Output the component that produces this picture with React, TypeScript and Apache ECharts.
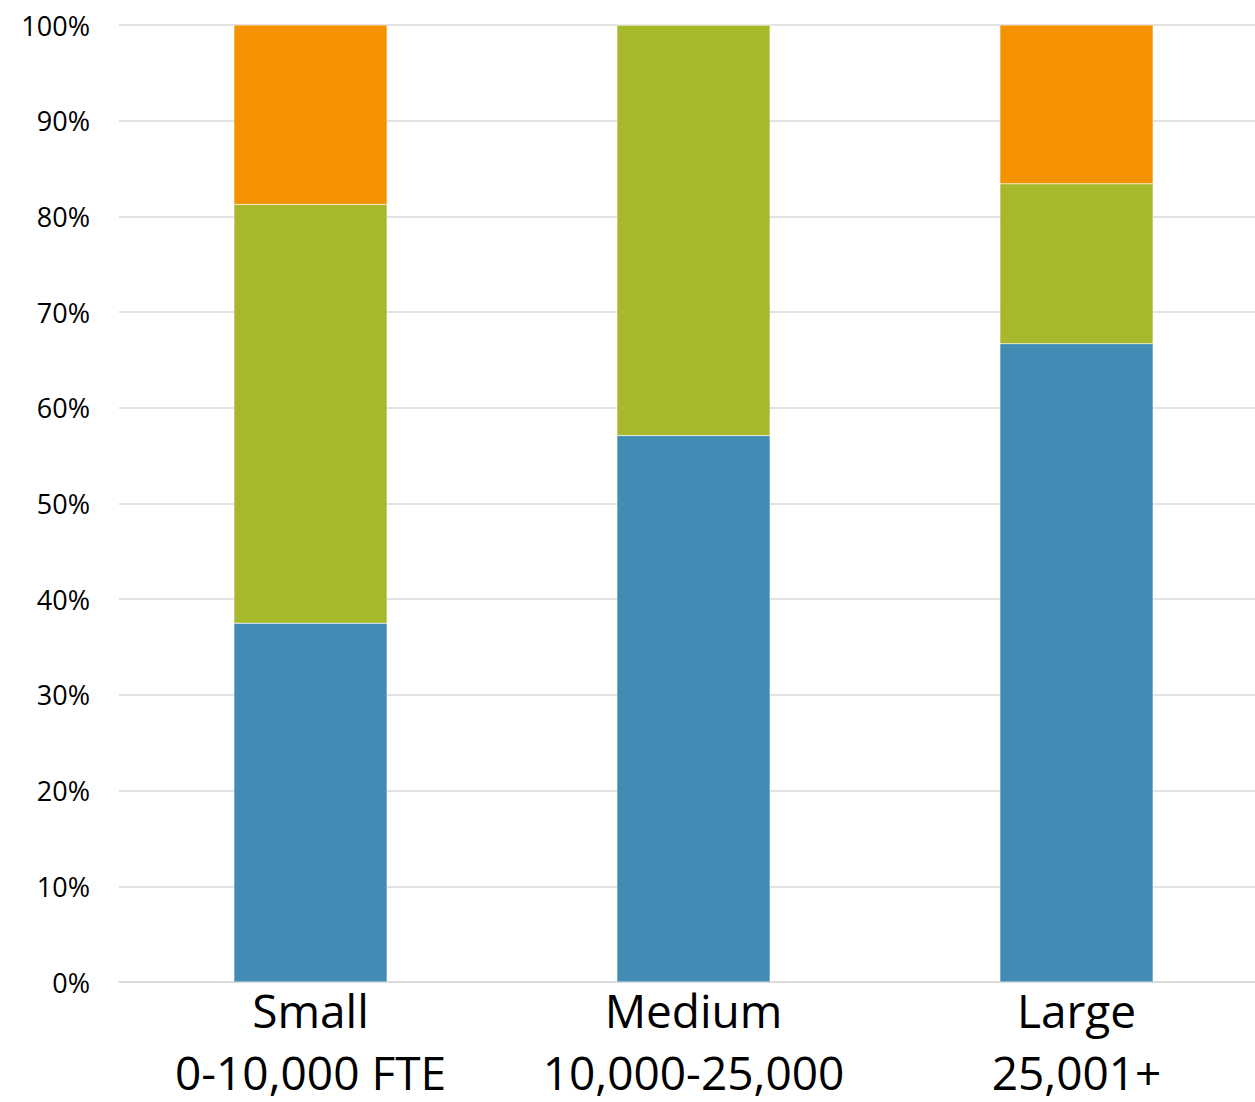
import React, { useEffect, useRef } from "react";
import * as echarts from "echarts";

const categories = ["Small\n0-10,000 FTE", "Medium\n10,000-25,000", "Large\n25,001+"];
const blueValues = [37.5, 57.1, 66.7];
const greenValues = [43.75, 42.9, 16.7];
const orangeValues = [18.75, 0, 16.6];
const seriesColors = ["#428BB5", "#A7B82B", "#F49200"];

export default function App() {
  const ref = useRef<HTMLDivElement>(null);
  useEffect(() => {
    if (!ref.current) return;
    const chart = echarts.init(ref.current, undefined, { renderer: "svg" });
    const mk = (name: string, data: number[], color: string) => ({
      name,
      type: "bar",
      stack: "total",
      data,
      barWidth: "40%",
      itemStyle: { color, borderColor: "rgba(255,255,255,0.6)", borderWidth: 0.5 },
    });
    chart.setOption({
      animation: false,
      backgroundColor: "#ffffff",
      grid: {
        left: 119,
        top: 25,
        width: 1149,
        height: 957,
        containLabel: false,
        outerBoundsMode: "none",
      },
      xAxis: {
        type: "category",
        data: categories,
        axisTick: { show: false },
        axisLine: { show: true, lineStyle: { color: "#d9d9d9", width: 1.5 } },
        axisLabel: {
          margin: -3,
          fontSize: 46,
          lineHeight: 62,
          color: "#000000",
          fontFamily: "Open Sans",
          interval: 0,
        },
      },
      yAxis: {
        type: "value",
        min: 0,
        max: 100,
        interval: 10,
        axisLine: { show: false },
        axisTick: { show: false },
        splitLine: { lineStyle: { color: "#d9d9d9", width: 1.5 } },
        axisLabel: {
          margin: 29,
          fontSize: 27,
          color: "#000000",
          fontFamily: "Open Sans",
          formatter: "{value}%",
        },
      },
      series: [
        mk("Blue", blueValues, seriesColors[0]),
        mk("Green", greenValues, seriesColors[1]),
        mk("Orange", orangeValues, seriesColors[2]),
      ],
    });
    return () => chart.dispose();
  }, []);
  return (
    <div style={{ position: "fixed", left: 0, top: 0, width: 1255, height: 1102, background: "#fff" }}>
      <div ref={ref} style={{ width: 1255, height: 1102 }} />
    </div>
  );
}
